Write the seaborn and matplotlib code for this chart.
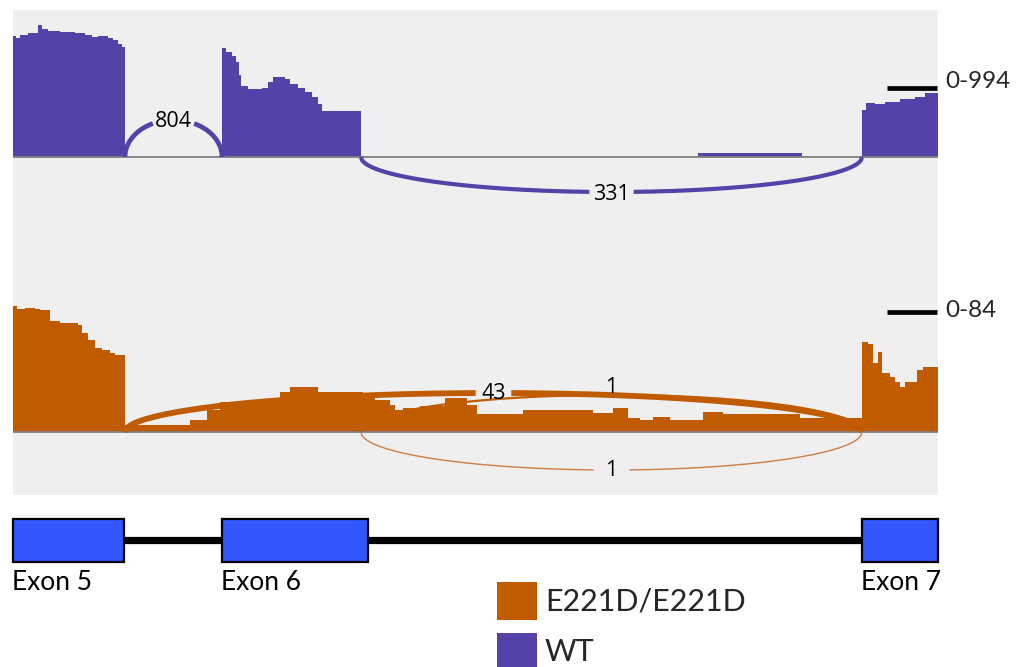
import numpy as np
import matplotlib
matplotlib.use("Agg")
import matplotlib.pyplot as plt
from matplotlib.patches import Rectangle
from matplotlib.lines import Line2D
import seaborn as sns

# ---------------- data ----------------
# genomic window (plot units)
region = [13, 938]

# WT coverage (step profile: bin edges and depth per bin)
wt_edges = [13, 16, 20, 28, 38, 42, 48, 60, 75, 85, 92, 98, 108, 113, 118, 122, 125,
            222, 226, 232, 236, 239, 241, 248, 262, 268, 273, 285, 290, 298, 305, 312, 318, 322, 361,
            698, 802, 862, 866, 875, 885, 900, 915, 925, 938]
wt_cov = [818, 806, 825, 838, 892, 865, 852, 845, 838, 825, 811, 818, 804, 791, 764, 744,
          0,
          737, 710, 683, 642, 554, 480, 460, 466, 507, 541, 527, 493, 466, 439, 406, 358, 311,
          0, 28, 0,
          318, 365, 358, 372, 392, 406, 433]

# E221D/E221D coverage
mut_edges = [13, 17, 25, 35, 40, 50, 60, 78, 82, 88, 95, 102, 110, 115, 125,
             190, 207, 220, 280, 290, 318, 363, 375, 390, 395, 403, 420, 445, 467, 477,
             523, 593, 613, 628, 640, 653, 670, 703, 723, 800, 862,
             868, 873, 878, 882, 890, 895, 900, 905, 917, 923, 938]
mut_cov = [74.5, 72.8, 73.3, 72.8, 72.2, 65.7, 64.5, 63.3, 58.6, 54.4, 49.7, 48.5, 46.7, 45.5,
           4.1, 7.1, 13.0, 17.7, 23.7, 26.6, 23.7, 23.1, 18.9, 16.0, 13.0, 14.2, 15.4, 20.1, 16.0,
           10.6, 13.0, 11.2, 14.2, 8.3, 7.1, 8.9, 7.1, 11.8, 10.6, 8.3,
           53.2, 52.1, 40.8, 47.3, 34.9, 32.5, 29.6, 26.6, 29.6, 36.7, 38.4]

# splice junctions
wt_junc_start = [125, 361]
wt_junc_end = [222, 862]
wt_junc_count = [804, 331]
wt_junc_side = [1, -1]

mut_junc_start = [125, 361, 361]
mut_junc_end = [862, 862, 862]
mut_junc_count = [43, 1, 1]
mut_junc_side = [1, 1, -1]

# gene model
exon_names = ["Exon 5", "Exon 6", "Exon 7"]
exon_starts = [13, 222, 862]
exon_ends = [124, 368, 938]

# track data ranges
wt_range = 994
mut_range = 84
sample_names = ["E221D/E221D", "WT"]

# ---------------- style ----------------
W, H = 1026, 667
purple = "#5343a9"
orange = "#c05b00"
bg_col = "#efefef"
exon_col = "#3357ff"

sns.set_theme(style="white")
plt.rcParams["font.family"] = ["Lato", "DejaVu Sans"]

fig = plt.figure(figsize=(W / 100, H / 100), dpi=100)
fig.patch.set_facecolor("white")


def px_axes(x0, y0, x1, y1):
    return fig.add_axes([x0 / W, 1 - y1 / H, (x1 - x0) / W, (y1 - y0) / H])


def clean(ax):
    ax.set_xticks([])
    ax.set_yticks([])
    ax.set_xlabel("")
    ax.set_ylabel("")
    for s in ax.spines.values():
        s.set_visible(False)


# background panel
bg = px_axes(13, 10, 938, 495)
bg.set_facecolor(bg_col)
clean(bg)


def draw_track(ax, edges, cov, color, starts, ends, counts, sides,
               unit_per_px, arc_px, arc_lw, arc_cols, gaps, label_dy, lab_fs):
    edges = [float(v) for v in edges]
    cov = np.asarray(cov, float)
    mids = [(a + b) / 2 for a, b in zip(edges[:-1], edges[1:])]
    sns.histplot(x=mids, weights=cov, bins=edges, element="step", fill=True,
                 color=color, alpha=1, linewidth=0, ax=ax, zorder=5)
    ax.axhline(0, color="#808080", lw=1.3, zorder=6)
    for s, e, n, sd, hp, lw, ac, g, dy in zip(starts, ends, counts, sides, arc_px,
                                               arc_lw, arc_cols, gaps, label_dy):
        c = (s + e) / 2
        r = (e - s) / 2
        h = hp * unit_per_px
        x = np.linspace(s, e, 600)
        y = sd * h * np.sqrt(np.clip(1 - ((x - c) / r) ** 2, 0, None))
        y[np.abs(x - c) < g / 2] = np.nan
        ax.plot(x, y, color=ac, lw=lw, solid_capstyle="butt", zorder=7)
        ax.annotate(str(n), xy=(c, sd * h), xytext=(0, -dy * 0.72),
                    textcoords="offset points", ha="center", va="center",
                    fontsize=lab_fs, family=["Open Sans", "DejaVu Sans"],
                    color="black", zorder=8)
    ax.set_xlim(*region)
    ax.patch.set_alpha(0)
    clean(ax)


# WT track: baseline at y=157 px, top at y=10 px
ax_wt = px_axes(13, 10, 938, 250)
wt_u = wt_range / 147
draw_track(ax_wt, wt_edges, wt_cov, purple, wt_junc_start, wt_junc_end,
           wt_junc_count, wt_junc_side, wt_u,
           arc_px=[37, 35], arc_lw=[3.4, 3.0], arc_cols=[purple, purple],
           gaps=[41, 44], label_dy=[2, 3], lab_fs=15.5)
ax_wt.set_ylim(-wt_range * 93 / 147, wt_range)

# mutant track: baseline at y=432 px, top at y=290 px
ax_mu = px_axes(13, 290, 938, 495)
mu_u = mut_range / 142
draw_track(ax_mu, mut_edges, mut_cov, orange, mut_junc_start, mut_junc_end,
           mut_junc_count, mut_junc_side, mu_u,
           arc_px=[39, 37, 38], arc_lw=[4.2, 1.6, 1.0],
           arc_cols=[orange, orange, "#cf7d40"],
           gaps=[35, 35, 35], label_dy=[0, -8, 0], lab_fs=15.5)
ax_mu.set_ylim(-mut_range * 63 / 142, mut_range)

# gene model track (pixel-like vertical units)
ax_g = px_axes(13, 500, 938, 667)
ax_g.set_xlim(*region)
ax_g.set_ylim(667, 500)
ax_g.patch.set_alpha(0)
clean(ax_g)
ax_g.plot([exon_ends[0], exon_starts[-1]], [540, 540], color="black", lw=5.2,
          solid_capstyle="butt", zorder=1)
for name, s, e in zip(exon_names, exon_starts, exon_ends):
    ax_g.add_patch(Rectangle((s, 519), e - s, 43, facecolor=exon_col,
                             edgecolor="black", lw=1.6, clip_on=False, zorder=2))
    ax_g.text(s - 1, 583, name, ha="left", va="center", fontsize=19, color="black")

# scale bars and data-range labels
for yb, yt, rng in [(88, 82, wt_range), (312, 310, mut_range)]:
    fig.add_artist(Line2D([887 / W, 937 / W], [1 - yb / H, 1 - yb / H], color="black",
                          lw=3.4, transform=fig.transFigure, solid_capstyle="butt"))
    fig.text(945 / W, 1 - yt / H, f"0-{rng}", ha="left", va="center", fontsize=17.5)

# legend
for (y0, y1, yt), col, name in zip([(582, 620, 602), (633, 672, 652)],
                                   [orange, purple], sample_names):
    fig.add_artist(Rectangle((497 / W, 1 - y1 / H), 40 / W, (y1 - y0) / H,
                             transform=fig.transFigure, facecolor=col, edgecolor="none"))
    fig.text(545 / W, 1 - yt / H, name, ha="left", va="center", fontsize=22)

fig.savefig("out.png", dpi=100)
